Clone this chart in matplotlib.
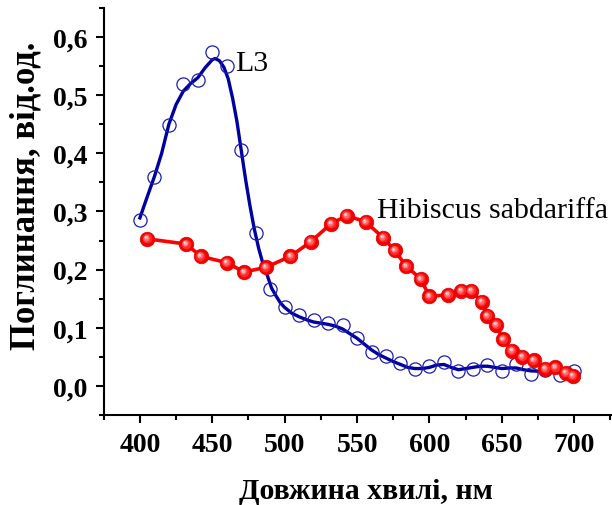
import matplotlib
matplotlib.use("Agg")
import matplotlib.pyplot as plt
from matplotlib.ticker import MultipleLocator
from matplotlib.transforms import offset_copy

# L3: measured points
l3_x = [400, 410, 420, 430, 440, 450, 460, 470, 480, 490, 500, 510, 520, 530, 540, 550,
        560, 570, 580, 590, 600, 610, 620, 630, 640, 650, 660, 670, 680, 690, 700]
l3_y = [0.286, 0.360, 0.448, 0.519, 0.526, 0.574, 0.550, 0.406, 0.263, 0.167, 0.135, 0.122,
        0.114, 0.108, 0.105, 0.082, 0.059, 0.052, 0.040, 0.030, 0.035, 0.042, 0.025, 0.030,
        0.036, 0.025, 0.038, 0.021, 0.028, 0.019, 0.025]

# L3: smoothed curve
fit_x = [400, 405, 410, 415, 420, 425, 430, 435, 440, 445, 450, 452, 455, 458, 461, 464, 467,
         470, 473, 476, 479, 482, 485, 488, 491, 494, 497, 500, 505, 510, 515, 520, 525, 530,
         535, 540, 545, 550, 555, 560, 565, 570, 575, 580, 585, 590, 595, 600, 605, 610, 615,
         620, 625, 630, 635, 640, 645, 650, 655, 660, 665, 670, 680, 690, 700]
fit_y = [0.289, 0.325, 0.360, 0.400, 0.450, 0.484, 0.507, 0.520, 0.530, 0.547, 0.561, 0.563,
         0.559, 0.548, 0.528, 0.495, 0.455, 0.405, 0.355, 0.310, 0.270, 0.237, 0.210, 0.190,
         0.168, 0.155, 0.143, 0.135, 0.125, 0.119, 0.114, 0.110, 0.108, 0.106, 0.103, 0.098,
         0.090, 0.082, 0.072, 0.062, 0.054, 0.048, 0.042, 0.037, 0.032, 0.030, 0.030, 0.032,
         0.036, 0.037, 0.032, 0.028, 0.030, 0.032, 0.034, 0.034, 0.032, 0.030, 0.031, 0.031,
         0.028, 0.026, 0.025, 0.023, 0.022]

# Hibiscus sabdariffa
hs_x = [405, 432, 442, 460, 472, 487, 504, 518, 532, 543, 556, 568, 576, 584, 594, 600,
        613, 622, 629, 636, 640, 646, 651, 657, 664, 672, 680, 687, 694, 699]
hs_y = [0.253, 0.244, 0.223, 0.212, 0.196, 0.204, 0.223, 0.248, 0.279, 0.293, 0.282, 0.255,
        0.233, 0.206, 0.184, 0.154, 0.157, 0.164, 0.164, 0.145, 0.121, 0.105, 0.080, 0.061,
        0.050, 0.044, 0.030, 0.032, 0.023, 0.018]

xticks = [400, 450, 500, 550, 600, 650, 700]
yticks = [0.0, 0.1, 0.2, 0.3, 0.4, 0.5, 0.6]

plt.rcParams["font.family"] = ["Liberation Serif", "DejaVu Serif"]

fig = plt.figure(figsize=(6.12, 5.06), dpi=100)
ax = fig.add_axes([0.1695, 0.1777, 0.8293, 0.8047])

navy = "#0000a0"
ax.plot(fit_x, fit_y, color=navy, lw=2.4, zorder=2)
ax.plot(l3_x, l3_y, ls="none", marker="o", ms=9.5, mfc="none", mec="#1c1cb4", mew=0.9, zorder=3)

# red line with shaded balls
ax.plot(hs_x, hs_y, color="#ff0000", lw=2.6, zorder=4)
ax.plot(hs_x, hs_y, ls="none", marker="o", ms=10.5, mfc="#f20000", mec="#e00000", mew=0.5, zorder=5)
shade = [(7.0, "#ff2a2a"), (4.6, "#ff6868"), (2.8, "#ffa8a8"), (1.4, "#ffe4e4")]
for i, (size, col) in enumerate(shade):
    tr = offset_copy(ax.transData, fig=fig, x=-0.35 * (i + 1), y=0.35 * (i + 1), units="points")
    ax.plot(hs_x, hs_y, ls="none", marker="o", ms=size, mfc=col, mec="none", transform=tr, zorder=6 + i)

ax.text(465.5, 0.543, "L3", fontsize=21.5, ha="left", va="baseline")
ax.text(563.5, 0.290, "Hibiscus sabdariffa", fontsize=21.5, ha="left", va="baseline")

ax.set_xlim(375, 725.6)
ax.set_ylim(-0.05, 0.65)
ax.set_xticks(xticks)
ax.set_yticks(yticks)
ax.set_yticklabels([f"{v:.1f}".replace(".", ",") for v in yticks])
ax.xaxis.set_minor_locator(MultipleLocator(25))
ax.yaxis.set_minor_locator(MultipleLocator(0.05))

for side in ("top", "right"):
    ax.spines[side].set_visible(False)
for side in ("left", "bottom"):
    ax.spines[side].set_linewidth(1.5)

ax.tick_params(which="major", direction="out", length=6, width=1.5, labelsize=20, pad=6)
ax.tick_params(which="minor", direction="out", length=3.5, width=1.5)
for lab in ax.get_xticklabels() + ax.get_yticklabels():
    lab.set_fontweight("bold")

ax.set_xlabel("Довжина хвилі, нм", fontsize=21.5, fontweight="bold")
ax.set_ylabel("Поглинання, від.од.", fontsize=25, fontweight="bold")
ax.xaxis.set_label_coords(0.5158, -0.152)
ax.yaxis.set_label_coords(-0.121, 0.5405)

fig.savefig("out.png", dpi=100)
